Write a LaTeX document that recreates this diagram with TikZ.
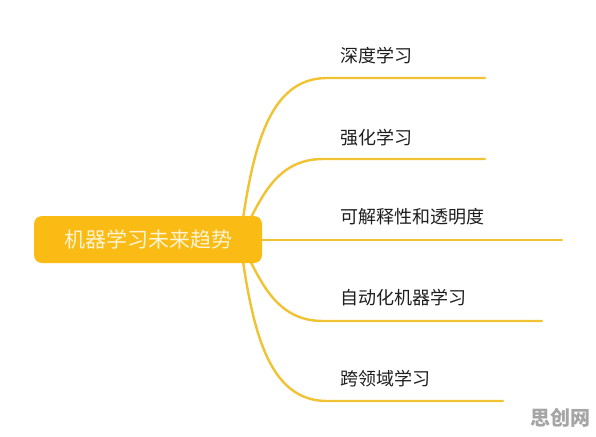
\documentclass[tikz,border=0pt]{standalone}
\usepackage{fontspec}
\usetikzlibrary{positioning}
\newfontfamily\cjk{Noto Sans CJK SC}
\definecolor{MapGold}    {HTML}{F9BB14}
\definecolor{BranchGold} {HTML}{F1C232}
\definecolor{TitleCream} {HTML}{FFF3D2}
\definecolor{InkGray}    {HTML}{1E1E1E}
\definecolor{MarkGray}   {HTML}{A5A5A5}
\tikzset{
  rootbox/.style={rectangle,rounded corners=8pt,fill=MapGold,draw=none,
                  minimum width=228pt,minimum height=47pt,inner sep=0pt,
                  font=\cjk\fontsize{21}{21}\selectfont\color{TitleCream}},
  leaf/.style={anchor=west,inner sep=0pt,
               font=\cjk\fontsize{18}{18}\selectfont\color{InkGray}},
  branch/.style={draw=BranchGold,line width=2.4pt,line cap=round},
  sitemark/.style={inner sep=0pt,font=\cjk\bfseries\fontsize{20}{20}\selectfont\color{MarkGray}},
}
\begin{document}
\begin{tikzpicture}[x=1pt,y=-1pt]
  \useasboundingbox[fill=white] (0,0) rectangle (596,436);

  \coordinate (root) at (240,240);
  \coordinate (s1) at (327,78);   \coordinate (e1) at (485,78);
  \coordinate (s2) at (323,159);  \coordinate (e2) at (485,159);
  \coordinate (s3) at (262,240);  \coordinate (e3) at (562,240);
  \coordinate (s4) at (323,321);  \coordinate (e4) at (542,321);
  \coordinate (s5) at (327,401);  \coordinate (e5) at (503,401);

  % branches
  \draw[branch] (root) .. controls (252,150) and (268,78) .. (s1) -- (e1);
  \draw[branch] (root) .. controls (260,200) and (275,159) .. (s2) -- (e2);
  \draw[branch] (root) -- (s3) -- (e3);
  \draw[branch] (root) .. controls (260,280) and (275,321) .. (s4) -- (e4);
  \draw[branch] (root) .. controls (252,330) and (268,401) .. (s5) -- (e5);

  \node[rootbox] (trend) at (148,239.5) {机器学习未来趋势};

  \node[leaf] (deep)    at (340,56)  {深度学习};
  \node[leaf] (reinf)   at (340,138) {强化学习};
  \node[leaf] (explain) at (340,217) {可解释性和透明度};
  \node[leaf] (automl)  at (340,298) {自动化机器学习};
  \node[leaf] (cross)   at (340,379) {跨领域学习};

  \node[sitemark] (site) at (560,418) {思创网};

\end{tikzpicture}
\end{document}
